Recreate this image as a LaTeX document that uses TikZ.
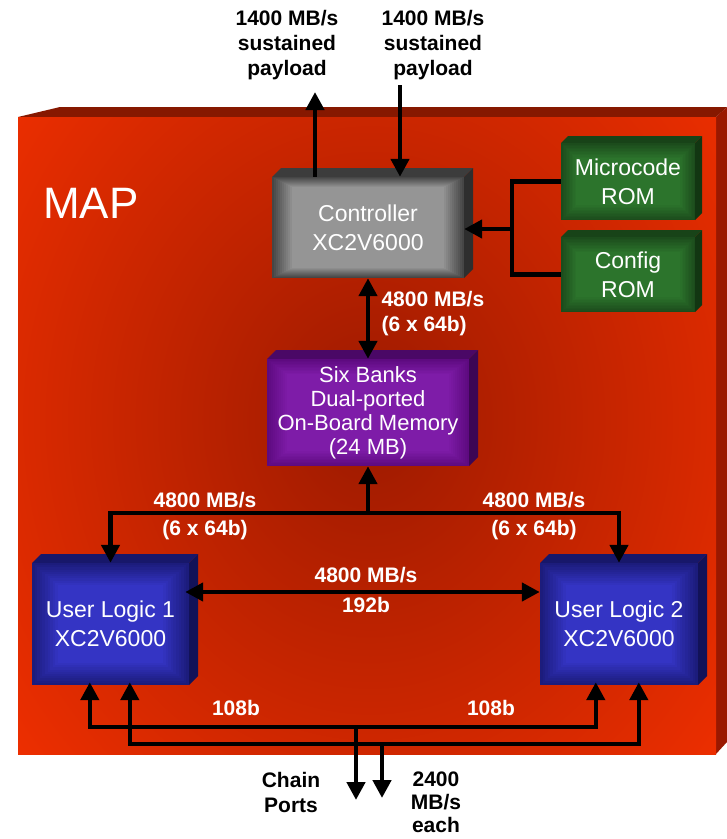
\documentclass[tikz,border=0pt]{standalone}
\usepackage{fontspec}
\setmainfont{Liberation Sans}
\usetikzlibrary{arrows.meta,calc}

% board colours
\definecolor{boardorange}{HTML}{FF3300}
\definecolor{boarddark}{HTML}{9C1A00}
\definecolor{boardtop}{HTML}{861800}
\definecolor{boardside}{HTML}{9A1800}
% chip colour sets: Out (edge), In (centre), Top, Side
\definecolor{ctrlOut}{HTML}{464646}
\definecolor{ctrlIn}{HTML}{959595}
\definecolor{ctrlTop}{HTML}{3C3C3C}
\definecolor{ctrlSide}{HTML}{2E2E2E}
\definecolor{romOut}{HTML}{1C4C1C}
\definecolor{romIn}{HTML}{2C742C}
\definecolor{romTop}{HTML}{184318}
\definecolor{romSide}{HTML}{123612}
\definecolor{memOut}{HTML}{5E0A80}
\definecolor{memIn}{HTML}{7E1CA8}
\definecolor{memTop}{HTML}{4A0866}
\definecolor{memSide}{HTML}{3C0654}
\definecolor{ulOut}{HTML}{1C1C7C}
\definecolor{ulIn}{HTML}{3434C4}
\definecolor{ulTop}{HTML}{17176A}
\definecolor{ulSide}{HTML}{121258}

\newcommand\chipfont{\fontsize{23}{29}\selectfont}
\newcommand\gx{2}
\newcommand\gy{1}

% 3-D chip: #1 name, #2 x1, #3 y1, #4 x2, #5 y2, #6 depth, #7 colour set, #8 text
\newcommand\chipbox[8]{%
  \fill[#7Top] (#2,#3) -- (#2+#6,#3-#6) -- (#4+#6,#3-#6) -- (#4,#3) -- cycle;
  \fill[#7Side] (#4,#3) -- (#4+#6,#3-#6) -- (#4+#6,#5-#6) -- (#4,#5) -- cycle;
  \foreach \i in {0,...,10} {%
    \pgfmathtruncatemacro\pc{\i*10}%
    \fill[#7In!\pc!#7Out] (#2+\i*\gx,#3+\i*\gy) rectangle (#4-\i*\gx,#5-\i*\gy);
  }%
  \node[chiptext, minimum width={(#4-#2)*1pt}, minimum height={(#5-#3)*1pt}]
    (#1) at ({(#2+#4)/2},{(#3+#5)/2}) {#8};
}

\begin{document}
\begin{tikzpicture}[x=1pt,y=-1pt,
  myhead/.tip={Triangle[length=18pt,width=18pt]},
  wire/.style={line width=4.5pt, black},
  chiptext/.style={inner sep=0pt, text=white, align=center, font=\chipfont},
  lbl/.style={align=center, font=\fontsize{21}{25}\selectfont\bfseries},
  wlbl/.style={lbl, text=white},
  blbl/.style={lbl, text=black}]

\useasboundingbox (0,0) rectangle (727,839);

% the MAP board
\fill[boardtop] (18,117) -- (60,107) -- (727,107) -- (716,117) -- cycle;
\fill[boardside] (716,117) -- (727,107) -- (727,742) -- (716,754) -- cycle;
\fill[boardorange] (18,117) rectangle (716,754);
\begin{scope}
  \clip (18,117) rectangle (716,754);
  \shade[inner color=boarddark, outer color=boardorange]
    (370,420) ellipse [x radius=560, y radius=640];
\end{scope}
\node[text=white, font=\fontsize{44}{44}\selectfont] (map) at (91,203) {MAP};

% chips
\renewcommand\gx{2}\renewcommand\gy{1}
\chipbox{ctrl}{272}{177}{464}{278}{9}{ctrl}{Controller\\XC2V6000}
\renewcommand\gx{1.5}\renewcommand\gy{1.5}
\chipbox{urom}{561}{143}{695}{220}{7}{rom}{Microcode\\ROM}
\chipbox{crom}{561}{237}{695}{312}{7}{rom}{Config\\ROM}
\renewcommand\gx{2}\renewcommand\gy{1.5}
\renewcommand\chipfont{\fontsize{22}{24}\selectfont}
\chipbox{mem}{267}{359}{469}{466}{9}{mem}{Six Banks\\Dual-ported\\On-Board Memory\\(24 MB)}
\renewcommand\chipfont{\fontsize{23}{29}\selectfont}
\renewcommand\gx{2.6}\renewcommand\gy{2.2}
\chipbox{ulA}{32}{563}{189}{685}{9}{ul}{User Logic 1\\XC2V6000}
\chipbox{ulB}{540}{563}{698}{685}{9}{ul}{User Logic 2\\XC2V6000}

% host links above the controller
\coordinate (outA) at (315,92);
\coordinate (inA) at (400,85);
\draw[wire,-myhead] (outA |- ctrl.north) -- (outA);
\draw[wire,-myhead] (inA) -- (inA |- ctrl.north);
\node[blbl] (lblA) at (287,45) {1400 MB/s\\sustained\\payload};
\node[blbl] (lblB) at (433,45) {1400 MB/s\\sustained\\payload};

% ROMs to controller
\coordinate (romBus) at (512,229);
\draw[wire] (urom.west) -| (romBus) |- (crom.west);
\draw[wire,-myhead] (romBus) -- (romBus -| ctrl.east);

% controller to memory
\draw[wire,myhead-myhead] (ctrl.south) -- (mem.north);
\node[wlbl, anchor=west, align=left] (lblC) at (378,314) {4800 MB/s\\(6 x 64b)};

% memory to user logic
\coordinate (memBus) at (368,513);
\draw[wire,-myhead] (memBus) -- (mem.south);
\draw[wire,-myhead] (memBus) -| (ulA.north);
\draw[wire,-myhead] (memBus) -| (ulB.north);
\node[wlbl] (lblD1) at (205,500) {4800 MB/s};
\node[wlbl] (lblD2) at (205,530) {(6 x 64b)};
\node[wlbl] (lblE1) at (534,500) {4800 MB/s};
\node[wlbl] (lblE2) at (534,530) {(6 x 64b)};

% user logic 1 to user logic 2
\coordinate (ulLink) at (366,592);
\draw[wire,myhead-myhead,shorten <=-4pt] (ulLink -| ulA.east) -- (ulLink -| ulB.west);
\node[wlbl] (lblF1) at (366,575) {4800 MB/s};
\node[wlbl] (lblF2) at (366,605) {192b};

% chain ports
\coordinate (busI) at (356,727);
\coordinate (busO) at (382,744);
\coordinate (chainI) at (356,800);
\coordinate (chainO) at (382,798);
\draw[wire,myhead-myhead,shorten <=-3pt,shorten >=-3pt] ([xshift=58pt]ulA.south west) |- (busI) -| ([xshift=56pt]ulB.south west);
\draw[wire,myhead-myhead,shorten <=-3pt,shorten >=-3pt] ([xshift=98pt]ulA.south west) |- (busO) -| ([xshift=99pt]ulB.south west);
\draw[wire,-myhead] (busI) -- (chainI);
\draw[wire,-myhead] (busO) -- (chainO);
\node[wlbl] (lblG) at (236,708) {108b};
\node[wlbl] (lblH) at (491,708) {108b};
\node[blbl] (lblI) at (291,792) {Chain\\Ports};
\node[blbl, font=\fontsize{21}{23}\selectfont\bfseries] (lblJ) at (436,802) {2400\\MB/s\\each};

\end{tikzpicture}
\end{document}
